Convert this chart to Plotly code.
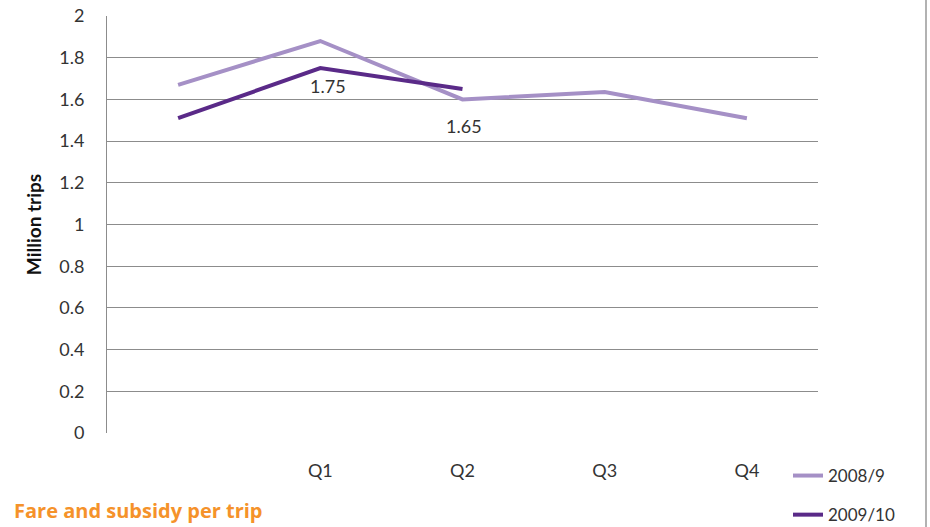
import plotly.graph_objects as go

# Quarterly trips (millions)
periods = ["", "Q1", "Q2", "Q3", "Q4"]
trips_2008_9 = [1.67, 1.88, 1.60, 1.635, 1.51]
trips_2009_10 = [1.51, 1.75, 1.65]
labelled_points = [1, 2]  # indices of 2009/10 points carrying value labels

series_names = ["2008/9", "2009/10"]
colors = ["#A590C6", "#5A2A88"]

W, H = 930, 527
L, R, T, B = 107, 112, 16, 94
plot_h = H - T - B

def py(px):
    """Convert a pixel row (from top) to paper y."""
    return (H - B - px) / plot_h

def px_x(px):
    return (px - L) / (W - L - R)

font_family = "Lato, 'Open Sans', sans-serif"

fig = go.Figure()
for name, vals, col in zip(series_names, [trips_2008_9, trips_2009_10], colors):
    fig.add_trace(go.Scatter(
        x=list(range(len(vals))), y=vals, name=name, mode="lines",
        line=dict(color=col, width=4), legendgroup=name,
    ))

for i in labelled_points:
    fig.add_annotation(
        x=i, y=trips_2009_10[i], text=f"{trips_2009_10[i]:.2f}",
        showarrow=False, yshift=-18 if i == 1 else -37, xshift=8 if i == 1 else 1,
        font=dict(size=18, color="#333333", family=font_family),
    )

fig.add_annotation(
    x=px_x(12), y=py(526), xref="paper", yref="paper",
    text="<b>Fare and subsidy per trip</b>", showarrow=False,
    xanchor="left", yanchor="bottom",
    font=dict(size=20, color="#F5922A", family="'Open Sans', sans-serif"),
)

fig.add_shape(
    type="line", xref="paper", yref="paper",
    x0=px_x(926), x1=px_x(926), y0=py(H), y1=py(0),
    line=dict(color="#999999", width=1.5),
)

fig.update_layout(
    width=W, height=H,
    margin=dict(l=L, r=R, t=T, b=B, autoexpand=False),
    paper_bgcolor="white", plot_bgcolor="white",
    font=dict(family=font_family, size=17, color="#333333"),
    showlegend=True,
    legend=dict(
        x=px_x(788), y=py(458), xanchor="left", yanchor="top",
        tracegroupgap=14, font=dict(size=17, color="#333333"),
        bgcolor="rgba(0,0,0,0)",
    ),
    xaxis=dict(
        range=[-0.5, 4.5], tickmode="array",
        tickvals=list(range(len(periods))), ticktext=periods,
        showgrid=False, zeroline=False, showline=False,
        ticks="", ticklabelstandoff=25,
        tickfont=dict(size=18, color="#333333"),
    ),
    yaxis=dict(
        range=[0, 2], dtick=0.2, tick0=0,
        showgrid=True, gridcolor="#8C8C8C", gridwidth=1,
        zeroline=False, showline=True, linecolor="#8C8C8C", linewidth=1,
        ticks="", ticklabelstandoff=18,
        tickfont=dict(size=18, color="#333333"),
        title=dict(text="<b>Million trips</b>", standoff=12,
                   font=dict(size=19, color="#111111")),
    ),
)

fig.write_html("out.html")
